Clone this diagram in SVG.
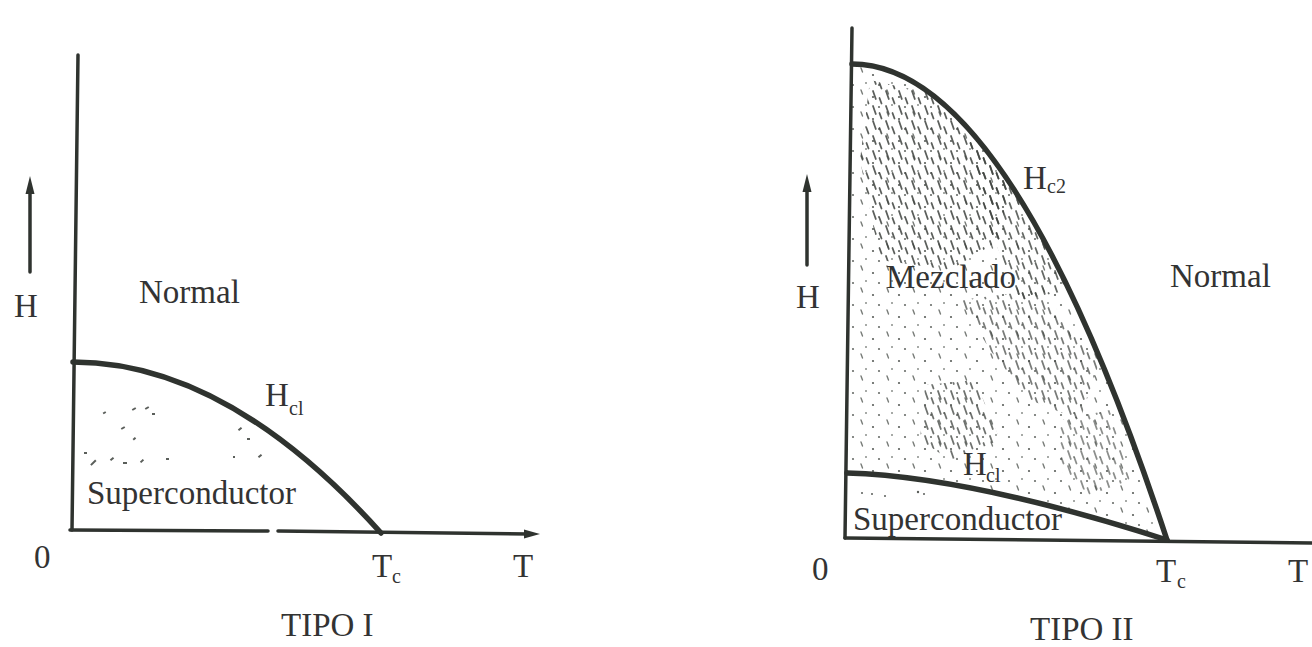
<svg xmlns="http://www.w3.org/2000/svg" width="1312" height="647" viewBox="0 0 1312 647">
  <defs>
    <style>
      .ax { stroke: #2f332f; stroke-width: 3.5; fill: none; stroke-linecap: round; }
      .cv { stroke: #2f332f; stroke-width: 5.5; fill: none; stroke-linecap: round; }
      .tx { font-family: "Liberation Serif", "Times New Roman", serif; font-size: 33px; fill: #333; }
      .sub { font-family: "Liberation Serif", "Times New Roman", serif; font-size: 20px; fill: #333; }
      .ah { fill: #2f332f; }
      .sp { stroke: #3f433f; stroke-width: 1.8; stroke-linecap: round; }
      .spl { stroke: #777b77; stroke-width: 1.4; stroke-linecap: round; }
    </style>
    <pattern id="stip" patternUnits="userSpaceOnUse" width="26" height="22">
      <line class="spl" x1="3" y1="2" x2="4.5" y2="6"/>
      <circle cx="15" cy="9" r="1.1" fill="#5a5e5a"/>
      <circle cx="8" cy="17" r="1" fill="#8a8e8a"/>
      <circle cx="21" cy="19" r="1.1" fill="#6a6e6a"/>
    </pattern>
    <pattern id="stipDense" patternUnits="userSpaceOnUse" width="13" height="15">
      <line class="sp" x1="2" y1="1" x2="4.8" y2="9"/>
      <line class="sp" x1="8.5" y1="8" x2="10.5" y2="13.5"/>
    </pattern>
    <clipPath id="mixClip">
      <path d="M852,64 Q1010,64 1167,540 C1080,512 950,476 847,473 Z"/>
    </clipPath>
  </defs>

  <rect width="1312" height="647" fill="#ffffff"/>

  <!-- TIPO I -->
  <g id="tipo1-superconductor-region">
    <g fill="#5a5e5a">
      <rect x="103" y="412" width="3" height="2" transform="rotate(-30 104 413)"/>
      <rect x="132" y="408" width="4" height="2" transform="rotate(-30 134 409)"/>
      <rect x="145" y="407" width="4" height="2" transform="rotate(-30 147 408)"/>
      <rect x="152" y="413" width="3" height="2"/>
      <rect x="121" y="427" width="4" height="2" transform="rotate(-30 123 428)"/>
      <rect x="133" y="438" width="3" height="2" transform="rotate(-40 134 439)"/>
      <rect x="84" y="452" width="3" height="2"/>
      <rect x="90" y="462" width="7" height="2" transform="rotate(-45 93 463)"/>
      <rect x="110" y="458" width="4" height="2" transform="rotate(-40 112 459)"/>
      <rect x="123" y="462" width="4" height="2"/>
      <rect x="140" y="460" width="4" height="2" transform="rotate(-45 142 461)"/>
      <rect x="166" y="458" width="3" height="2"/>
      <rect x="238" y="428" width="4" height="2" transform="rotate(-40 240 429)"/>
      <rect x="247" y="438" width="3" height="2"/>
      <rect x="258" y="455" width="4" height="2" transform="rotate(-40 260 456)"/>
      <rect x="233" y="456" width="2" height="2"/>
    </g>
  </g>

  <!-- TIPO II mixed region stipple -->
  <g id="tipo2-mezclado-region" clip-path="url(#mixClip)">
    <rect x="845" y="60" width="330" height="485" fill="url(#stip)"/>
    <path d="M870,80 L960,100 L1010,170 L1000,240 L950,270 L880,260 L860,160 Z" fill="url(#stipDense)" opacity="0.85"/>
    <path d="M960,110 L1030,200 L1070,290 L1020,300 L990,230 Z" fill="url(#stipDense)" opacity="0.8"/>
    <path d="M960,300 L1040,290 L1100,360 L1080,420 L1030,400 L990,350 Z" fill="url(#stipDense)" opacity="0.7"/>
    <path d="M925,385 L975,380 L1000,440 L950,460 L920,440 Z" fill="url(#stipDense)" opacity="0.75"/>
    <path d="M1060,420 L1110,410 L1130,480 L1090,495 L1060,470 Z" fill="url(#stipDense)" opacity="0.6"/>
  </g>
  <g id="tipo2-superconductor-region" fill="#5a5e5a">
    <circle cx="862" cy="493" r="1"/>
    <circle cx="872" cy="494" r="1"/>
    <circle cx="885" cy="496" r="1"/>
    <circle cx="918" cy="492" r="1.2"/>
    <circle cx="924" cy="494" r="1"/>
  </g>

  <g id="connectors">
    <!-- TIPO I axes -->
    <line class="ax" x1="78" y1="55" x2="72" y2="530"/>
    <polyline class="ax" points="70,530 268,531"/>
    <polyline class="ax" points="278,531 528,534"/>
    <path class="ah" d="M540,534 L524,529.5 L524,538.5 Z"/>
    <!-- H arrow left -->
    <line class="ax" x1="30" y1="272" x2="30" y2="190"/>
    <path class="ah" d="M30,176 L25.5,194 L34.5,194 Z"/>
    <!-- Hc1 curve TIPO I -->
    <path class="cv" d="M73,362 Q227,362 381,533"/>

    <!-- TIPO II axes -->
    <line class="ax" x1="852" y1="28" x2="845" y2="538"/>
    <line class="ax" x1="845" y1="538" x2="1312" y2="543"/>
    <!-- H arrow right -->
    <line class="ax" x1="807" y1="265" x2="807" y2="188"/>
    <path class="ah" d="M807,174 L802.5,192 L811.5,192 Z"/>
    <!-- Hc2 and Hc1 curves TIPO II -->
    <path class="cv" d="M852,64 Q1010,64 1167,540"/>
    <path class="cv" d="M847,473 C950,476 1080,512 1167,540"/>
  </g>

  <!-- TIPO I labels -->
  <g id="t1-H"><text class="tx" x="14" y="317">H</text></g>
  <g id="t1-normal"><text class="tx" x="139" y="303">Normal</text></g>
  <g id="t1-hc1"><text class="tx" x="265" y="406">H</text><text class="sub" x="289" y="415">cl</text></g>
  <g id="t1-superconductor"><text class="tx" x="87" y="504">Superconductor</text></g>
  <g id="t1-zero"><text class="tx" x="34" y="568">0</text></g>
  <g id="t1-tc"><text class="tx" x="372" y="577">T</text><text class="sub" x="392" y="583">c</text></g>
  <g id="t1-T"><text class="tx" x="513" y="577">T</text></g>
  <g id="t1-title"><text class="tx" x="281" y="636">TIPO I</text></g>

  <!-- TIPO II labels -->
  <g id="t2-H"><text class="tx" x="796" y="308">H</text></g>
  <g id="t2-mezclado"><text class="tx" x="886" y="288">Mezclado</text></g>
  <g id="t2-normal"><text class="tx" x="1170" y="287">Normal</text></g>
  <g id="t2-hc2"><text class="tx" x="1023" y="189">H</text><text class="sub" x="1047" y="193">c2</text></g>
  <g id="t2-hc1"><text class="tx" x="963" y="475">H</text><text class="sub" x="986" y="482">cl</text></g>
  <g id="t2-superconductor"><text class="tx" x="853" y="530">Superconductor</text></g>
  <g id="t2-zero"><text class="tx" x="812" y="580">0</text></g>
  <g id="t2-tc"><text class="tx" x="1156" y="582">T</text><text class="sub" x="1177" y="588">c</text></g>
  <g id="t2-T"><text class="tx" x="1288" y="582">T</text></g>
  <g id="t2-title"><text class="tx" x="1030" y="640">TIPO II</text></g>
</svg>
